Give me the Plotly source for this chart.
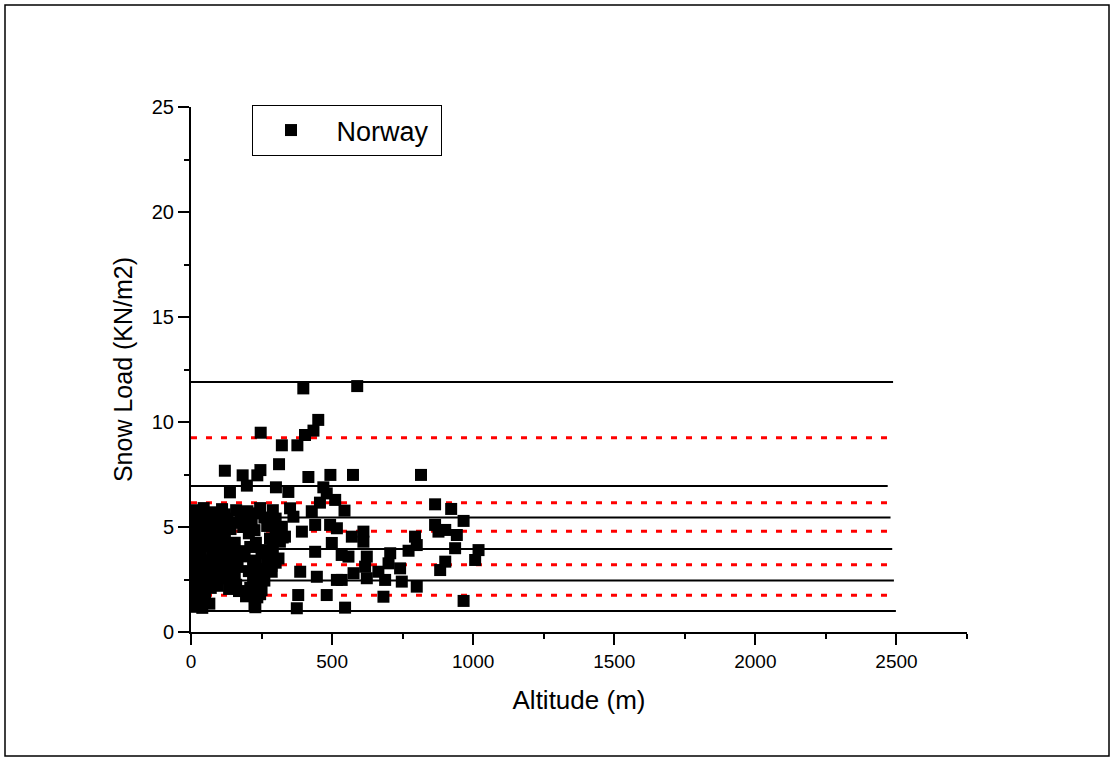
import plotly.graph_objects as go

# Scatter data: altitude (m) and snow load (kN/m2)
alt = [
    398, 589, 451, 434, 404, 247, 322, 377, 312, 120, 183, 235, 246, 416, 494, 574, 815,
    198, 138, 301, 345, 469, 481, 457, 511, 544, 428, 865, 922, 966, 865, 901, 517, 611,
    570, 794, 942, 800, 771, 706, 558, 623, 877, 936, 1019, 1007, 901, 883, 700, 741, 617,
    576, 534, 623, 664, 688, 747, 800, 682, 966, 546,
    351, 363, 440, 493, 274, 322, 393,
    446, 517, 499, 440, 387, 534, 286, 333, 481, 380, 375, 611,
    15, 45, 80, 110, 160, 200, 245, 290,
    25, 120, 230,
    5, 30, 60, 95, 130, 175, 215, 260, 300,
    55, 160, 290,
    10, 40, 70, 105, 140, 185, 225, 270, 315,
    30, 100, 205, 300,
    20, 50, 85, 120, 280, 325,
    15, 85, 155, 230, 315,
    5, 35, 65, 100, 135, 170, 210, 250, 290,
    25, 95, 180, 255,
    15, 45, 75, 115, 155, 190, 230, 270, 310,
    55, 140, 220, 300,
    8, 30, 60, 90, 125, 165, 205, 245, 285,
    15, 75, 155, 230,
    20, 50, 80, 110, 145, 220, 260,
    30, 95, 160, 235,
    10, 40, 70, 135, 170, 210, 250,
    15, 45, 245,
    5, 25, 50, 65, 195, 235,
    10, 40, 20, 225, 228,
]
load = [
    11.60, 11.71, 10.10, 9.59, 9.38, 9.49, 8.89, 8.89, 7.99, 7.68, 7.46, 7.46, 7.71, 7.38, 7.48, 7.48, 7.48,
    6.97, 6.65, 6.89, 6.67, 6.89, 6.60, 6.16, 6.29, 5.78, 5.75, 6.08, 5.86, 5.29, 5.10, 4.86, 4.94, 4.78,
    4.54, 4.54, 4.62, 4.14, 3.87, 3.75, 3.59, 3.59, 4.78, 3.99, 3.90, 3.43, 3.35, 2.95, 3.27, 3.03, 3.11,
    2.80, 2.48, 2.56, 2.87, 2.48, 2.40, 2.16, 1.68, 1.48, 1.16,
    5.89, 5.49, 5.10, 5.10, 5.18, 5.01, 4.78,
    2.63, 2.48, 4.24, 3.82, 2.87, 3.67, 2.87, 4.54, 1.76, 1.76, 1.13, 4.30,
    5.8, 5.9, 5.7, 5.85, 5.8, 5.75, 5.9, 5.8,
    5.6, 5.6, 5.65,
    5.4, 5.3, 5.5, 5.2, 5.4, 5.5, 5.3, 5.45, 5.4,
    5.1, 5.2, 5.2,
    4.9, 5.0, 4.8, 5.1, 4.9, 5.0, 4.85, 5.05, 4.9,
    4.7, 4.75, 4.7, 4.7,
    4.5, 4.4, 4.6, 4.4, 4.45, 4.5,
    4.25, 4.3, 4.25, 4.25, 4.3,
    4.0, 3.9, 4.1, 3.95, 4.0, 3.85, 4.05, 3.9, 4.0,
    3.75, 3.8, 3.8, 3.75,
    3.5, 3.4, 3.6, 3.45, 3.5, 3.6, 3.4, 3.55, 3.5,
    3.3, 3.3, 3.2, 3.3,
    3.0, 3.1, 2.9, 3.05, 2.95, 3.1, 2.9, 3.0, 3.15,
    2.75, 2.7, 2.8, 2.7,
    2.5, 2.6, 2.45, 2.55, 2.4, 2.5, 2.45,
    2.25, 2.2, 2.25, 2.3,
    2.0, 1.95, 2.1, 2.05, 1.95, 2.1, 2.0,
    1.75, 1.8, 1.8,
    1.5, 1.4, 1.6, 1.35, 1.7, 1.65,
    1.2, 1.15, 1.3, 1.3, 1.18,
]

# Horizontal reference levels
black_levels = [11.9, 6.95, 5.45, 3.95, 2.45, 1.0]
black_ends = [2488, 2469, 2479, 2485, 2491, 2498]
red_levels = [9.25, 6.15, 4.8, 3.2, 1.75]
red_ends = [2468, 2468, 2468, 2468, 2468]

series_name = "\u00a0Norway\u00a0"
x_title = "Altitude (m)"
y_title = "Snow Load (KN/m2)"

fig = go.Figure()

for lvl, xe in zip(black_levels, black_ends):
    fig.add_trace(go.Scatter(x=[0, xe], y=[lvl, lvl], mode="lines",
                             line=dict(color="black", width=2),
                             showlegend=False, hoverinfo="skip"))
for lvl, xe in zip(red_levels, red_ends):
    fig.add_trace(go.Scatter(x=[0, xe], y=[lvl, lvl], mode="lines",
                             line=dict(color="red", width=3, dash="6px,9px"),
                             showlegend=False, hoverinfo="skip"))

fig.add_trace(go.Scatter(x=alt, y=load, mode="markers", name=series_name,
                         marker=dict(symbol="square", size=12, color="black",
                                     line=dict(width=0))))

L, R, T, B = 191, 146, 107, 126
W, H = 1113, 758
pw, ph = W - L - R, H - T - B

fig.update_layout(
    width=W, height=H,
    margin=dict(l=L, r=R, t=T, b=B),
    paper_bgcolor="white", plot_bgcolor="white",
    font=dict(family="Arial, Liberation Sans", color="black"),
    showlegend=True,
    legend=dict(x=(252 - L) / pw, y=(632 - 105) / ph, xanchor="left", yanchor="top",
                bordercolor="black", borderwidth=1, bgcolor="white",
                font=dict(size=27), itemwidth=66),
    xaxis=dict(range=[0, 2750], tickvals=[0, 500, 1000, 1500, 2000, 2500],
               showgrid=False, zeroline=False, showline=True, linecolor="black", linewidth=2,
               ticks="outside", ticklen=11, tickwidth=2, tickcolor="black",
               tickfont=dict(size=19),
               minor=dict(dtick=250, ticks="outside", ticklen=5, tickwidth=2, tickcolor="black"),
               title=dict(text=x_title, font=dict(size=26), standoff=20)),
    yaxis=dict(range=[0, 25], tickvals=[0, 5, 10, 15, 20, 25],
               showgrid=False, zeroline=False, showline=True, linecolor="black", linewidth=2,
               ticks="outside", ticklen=11, tickwidth=2, tickcolor="black",
               tickfont=dict(size=20),
               minor=dict(dtick=2.5, ticks="outside", ticklen=5, tickwidth=2, tickcolor="black"),
               title=dict(text=y_title, font=dict(size=25), standoff=12)),
)

# outer frame
fig.add_shape(type="rect", xref="paper", yref="paper",
              x0=(5 - L) / pw, x1=(1109 - L) / pw, y0=(H - B - 756) / ph, y1=(H - B - 5) / ph,
              line=dict(color="black", width=1.5), fillcolor="rgba(0,0,0,0)", layer="below")

fig.write_html("out.html", config={"displayModeBar": False},
               post_script="document.body.style.margin='0px';")
